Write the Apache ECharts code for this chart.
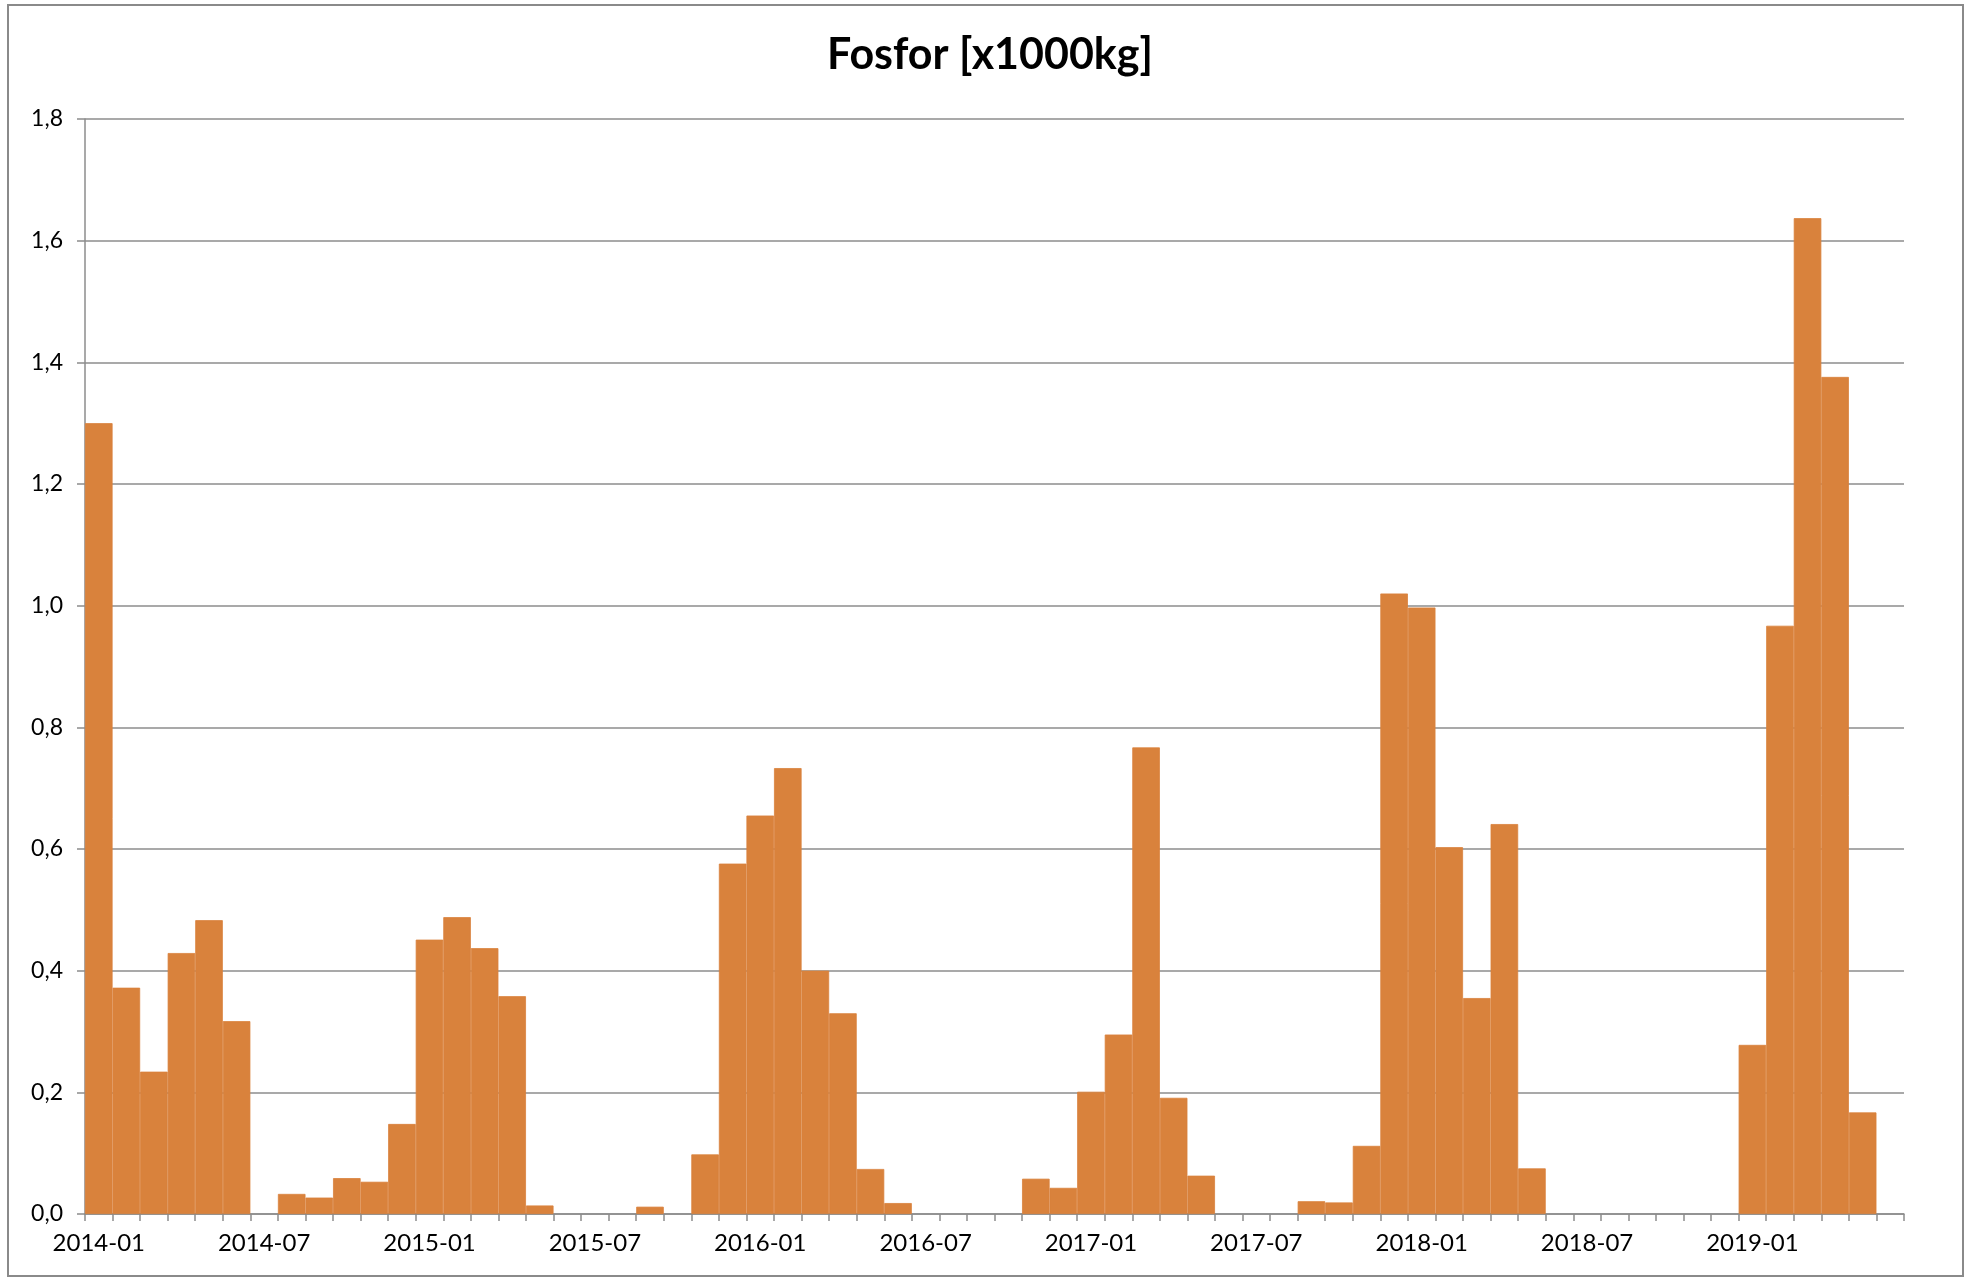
<!DOCTYPE html>
<html>
<head>
<meta charset="utf-8">
<title>Fosfor</title>
<script src="https://cdn.jsdelivr.net/npm/echarts@6/dist/echarts.min.js"></script>
<style>
  html, body { margin: 0; padding: 0; background: #fff; }
  #container { width: 1968px; height: 1280px; }
</style>
</head>
<body>
<div id="container"></div>
<script>
// months 2014-01 .. 2019-06
var months = [];
for (var y = 2014; y <= 2019; y++) {
    for (var m = 1; m <= 12; m++) {
        if (y === 2019 && m > 6) break;
        months.push(y + '-' + (m < 10 ? '0' + m : m));
    }
}

// Fosfor [x1000kg], one value per month
var fosfor2014 = [1.30, 0.372, 0.234, 0.429, 0.483, 0.317, 0, 0.033, 0.027, 0.059, 0.053, 0.148];
var fosfor2015 = [0.451, 0.488, 0.437, 0.358, 0.014, 0, 0, 0, 0.012, 0, 0.098, 0.576];
var fosfor2016 = [0.655, 0.733, 0.400, 0.330, 0.074, 0.018, 0, 0, 0, 0, 0.058, 0.043];
var fosfor2017 = [0.201, 0.295, 0.767, 0.191, 0.063, 0, 0, 0, 0.021, 0.019, 0.112, 1.020];
var fosfor2018 = [0.997, 0.603, 0.355, 0.641, 0.075, 0, 0, 0, 0, 0, 0, 0];
var fosfor2019 = [0.278, 0.967, 1.637, 1.376, 0.167, 0];
var fosfor = [].concat(fosfor2014, fosfor2015, fosfor2016, fosfor2017, fosfor2018, fosfor2019);

var yTicks = { min: 0, max: 1.8, interval: 0.2 };

var font = 'Lato, "Open Sans", sans-serif';
var gridGrey = '#8c8c8c';
var barColor = '#D9823C';

var container = document.getElementById('container');
var charts = echarts.init(container);

// empty months draw nothing (no border line on the axis)
var barData = fosfor.map(function (v) { return v === 0 ? null : v; });

var option = {
    backgroundColor: '#fff',
    animation: false,
    title: {
        text: 'Fosfor [x1000kg]',
        left: 985,
        top: 29,
        textAlign: 'center',
        textStyle: { fontFamily: font, fontSize: 43, fontWeight: 'bold', color: '#000' }
    },
    graphic: [{
        type: 'rect',
        shape: { x: 8, y: 5, width: 1955, height: 1271 },
        style: { fill: 'none', stroke: '#8a8a8a', lineWidth: 2 },
        silent: true
    }],
    grid: { left: 85, right: 64, top: 119, bottom: 66 },
    xAxis: {
        type: 'category',
        data: months,
        boundaryGap: true,
        axisLine: { lineStyle: { color: gridGrey, width: 1.5 } },
        axisTick: { show: true, interval: 0, length: 7, lineStyle: { color: gridGrey, width: 1.5 } },
        axisLabel: {
            interval: 5,
            margin: 17,
            fontFamily: font,
            fontSize: 24,
            color: '#000'
        },
        splitLine: { show: false }
    },
    yAxis: {
        type: 'value',
        min: yTicks.min,
        max: yTicks.max,
        interval: yTicks.interval,
        axisLine: { show: true, lineStyle: { color: gridGrey, width: 1.5 } },
        axisTick: { show: true, length: 8, lineStyle: { color: gridGrey, width: 1.5 } },
        axisLabel: {
            margin: 22,
            fontFamily: font,
            fontSize: 23,
            color: '#000',
            formatter: function (v) { return v.toFixed(1).replace('.', ','); }
        },
        splitLine: { lineStyle: { color: gridGrey, width: 1.5 } }
    },
    series: [{
        type: 'bar',
        data: barData,
        barCategoryGap: '0%',
        itemStyle: { color: barColor, borderColor: barColor, borderWidth: 0.8 }
    }]
};

charts.setOption(option, true);
</script>
</body>
</html>
